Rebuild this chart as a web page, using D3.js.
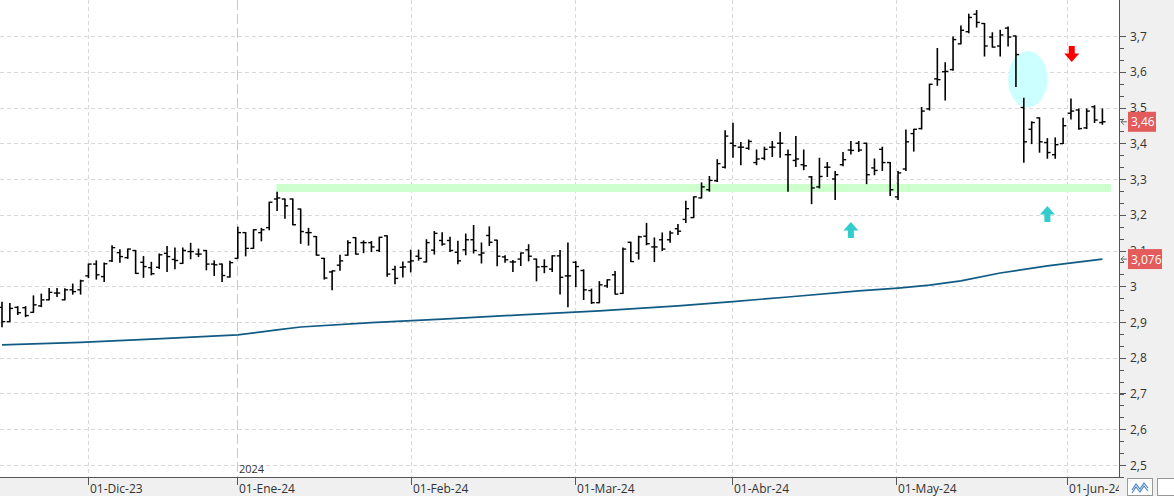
<!DOCTYPE html>
<html><head><meta charset="utf-8">
<script src="https://cdn.jsdelivr.net/npm/d3@7"></script>
<style>
body{margin:0;background:#fff;}
svg{display:block;font-family:"Segoe UI","Open Sans","Noto Sans",sans-serif;}
</style></head>
<body><svg id="chart" width="1174" height="496"></svg>
<script>
// ---- OHLC data (trading days 16-Nov-23 .. 07-Jun-24), index 0..140 ----
const openV = [2.941,2.901,2.941,2.940,2.927,2.945,2.962,2.981,2.962,2.990,
2.990,3.029,3.062,3.027,3.071,3.094,3.080,3.100,3.067,3.052,
3.053,3.092,3.075,3.064,3.097,3.090,3.100,3.062,3.062,3.026,
3.078,3.150,3.106,3.150,3.164,3.244,3.244,3.244,3.216,3.150,
3.139,3.078,3.040,3.059,3.087,3.136,3.122,3.122,3.100,3.141,
3.047,3.053,3.068,3.084,3.068,3.101,3.128,3.128,3.095,3.102,
3.130,3.088,3.142,3.129,3.082,3.068,3.076,3.102,3.076,3.055,
3.048,3.085,3.029,3.067,3.044,2.988,2.954,3.001,3.032,2.980,
3.123,3.093,3.140,3.110,3.130,3.130,3.161,3.187,3.192,3.247,
3.270,3.295,3.333,3.400,3.389,3.386,3.346,3.358,3.389,3.400,
3.368,3.352,3.340,3.306,3.278,3.333,3.300,3.340,3.381,3.400,
3.400,3.331,3.383,3.346,3.250,3.328,3.427,3.441,3.496,3.580,
3.600,3.606,3.678,3.712,3.761,3.735,3.697,3.672,3.722,3.700,
3.500,3.439,3.471,3.402,3.368,3.399,3.484,3.493,3.443,3.502,
3.458];
const highV = [2.955,2.952,2.943,2.943,2.973,2.978,2.994,2.994,2.993,3.006,
3.017,3.062,3.071,3.065,3.113,3.102,3.104,3.100,3.083,3.067,
3.090,3.111,3.107,3.107,3.120,3.104,3.100,3.071,3.062,3.070,
3.165,3.150,3.158,3.162,3.235,3.263,3.244,3.244,3.216,3.162,
3.139,3.078,3.043,3.087,3.127,3.136,3.127,3.125,3.137,3.141,
3.056,3.068,3.101,3.101,3.130,3.153,3.150,3.137,3.126,3.146,
3.170,3.121,3.166,3.129,3.085,3.072,3.093,3.116,3.076,3.074,
3.085,3.100,3.121,3.069,3.046,2.992,3.013,3.018,3.041,3.107,
3.123,3.140,3.176,3.135,3.149,3.154,3.173,3.238,3.250,3.289,
3.307,3.354,3.435,3.456,3.402,3.409,3.381,3.389,3.405,3.430,
3.381,3.419,3.381,3.307,3.358,3.346,3.321,3.374,3.405,3.405,
3.400,3.356,3.389,3.346,3.321,3.437,3.439,3.500,3.565,3.665,
3.625,3.697,3.728,3.761,3.771,3.735,3.709,3.716,3.725,3.700,
3.526,3.460,3.471,3.413,3.415,3.470,3.524,3.496,3.496,3.505,
3.496];
const lowV = [2.887,2.901,2.921,2.915,2.927,2.943,2.962,2.971,2.962,2.978,
2.978,3.024,3.020,3.013,3.069,3.067,3.078,3.036,3.025,3.032,
3.050,3.041,3.049,3.064,3.077,3.083,3.046,3.030,3.013,3.026,
3.078,3.085,3.106,3.127,3.158,3.212,3.190,3.172,3.120,3.115,
3.087,3.020,2.990,3.045,3.087,3.090,3.094,3.097,3.097,3.028,
3.007,3.026,3.040,3.073,3.068,3.090,3.115,3.097,3.063,3.088,
3.093,3.065,3.114,3.057,3.067,3.041,3.058,3.071,3.015,3.038,
3.041,2.978,2.943,2.999,2.963,2.952,2.954,2.997,2.978,2.980,
3.069,3.076,3.116,3.069,3.100,3.123,3.145,3.178,3.192,3.247,
3.266,3.293,3.331,3.361,3.340,3.383,3.340,3.354,3.363,3.361,
3.266,3.335,3.326,3.231,3.275,3.307,3.243,3.337,3.370,3.377,
3.287,3.312,3.324,3.254,3.243,3.324,3.378,3.440,3.493,3.562,
3.521,3.604,3.678,3.709,3.725,3.644,3.669,3.644,3.672,3.559,
3.347,3.399,3.375,3.358,3.358,3.399,3.468,3.439,3.441,3.458,
3.453];
const closeV = [2.901,2.938,2.926,2.918,2.948,2.962,2.983,2.981,2.990,2.985,
3.015,3.062,3.032,3.063,3.108,3.083,3.104,3.036,3.055,3.035,
3.088,3.083,3.072,3.100,3.097,3.090,3.062,3.060,3.030,3.066,
3.150,3.106,3.158,3.158,3.235,3.247,3.225,3.172,3.153,3.150,
3.087,3.023,3.043,3.071,3.122,3.090,3.122,3.110,3.137,3.034,
3.022,3.054,3.071,3.078,3.122,3.148,3.118,3.100,3.071,3.130,
3.100,3.093,3.123,3.084,3.074,3.068,3.093,3.084,3.054,3.055,
3.085,3.025,3.029,3.055,2.990,2.954,3.004,3.018,2.978,3.104,
3.069,3.138,3.119,3.110,3.104,3.149,3.154,3.217,3.250,3.278,
3.296,3.343,3.420,3.393,3.389,3.405,3.356,3.383,3.389,3.400,
3.368,3.356,3.337,3.275,3.307,3.333,3.312,3.354,3.380,3.381,
3.312,3.324,3.346,3.270,3.317,3.404,3.439,3.490,3.565,3.578,
3.601,3.690,3.716,3.752,3.738,3.672,3.669,3.703,3.697,3.648,
3.404,3.458,3.404,3.374,3.396,3.449,3.490,3.441,3.490,3.465,
3.460];

// ---- moving average (read at selected bars) ----
const maIndex = [0,10,19,30,35,38,47,56,66,76,86,93,100,109,114,118,122,127,133,140];
const maValue = [2.836,2.843,2.852,2.864,2.878,2.886,2.898,2.908,2.920,2.931,2.945,2.957,2.970,2.987,2.995,3.003,3.015,3.037,3.057,3.076];

// ---- axis labels ----
const monthTickIndex = [10.95,29.9,52,72.95,92.85,113.8,135.5];
const monthLabels = ["01-Dic-23","01-Ene-24","01-Feb-24","01-Mar-24","01-Abr-24","01-May-24","01-Jun-24"];
const yearSepIndex = 29.9, yearLabel = "2024";
const yTickValues = [2.5,2.6,2.7,2.8,2.9,3.0,3.1,3.2,3.3,3.4,3.5,3.6,3.7];
const yTickLabels = ["2,5","2,6","2,7","2,8","2,9","3","3,1","3,2","3,3","3,4","3,5","3,6","3,7"];

// ---- annotations ----
const bandRange = [3.264,3.286], bandIndex = [34.9,141.1];
const ellipse = {i:130.5, v:3.579, ri:2.5, rv:0.079};
const upArrows = [{i:108, v:3.180},{i:133, v:3.2245}];
const downArrows = [{i:136.1, v:3.627}];
const lastPrice = 3.46, lastPriceLabel = "3,46";
const lastMA = 3.076, lastMALabel = "3,076";

const W=1174, H=496, plotR=1119, axisY=477;
const svg = d3.select("#chart");
const x = d3.scaleLinear().domain([0,140]).range([2,1102.4]);
const y = d3.scaleLinear().domain([2.5,3.7]).range([465,36]);

svg.append("rect").attr("width",W).attr("height",H).attr("fill","#fff");

// horizontal grid
svg.append("g").selectAll("line").data(yTickValues).join("line")
  .attr("x1",0).attr("x2",plotR).attr("y1",d=>Math.round(y(d))+0.5).attr("y2",d=>Math.round(y(d))+0.5)
  .attr("stroke","#d9d9d9").attr("stroke-dasharray","4,3");
// vertical month grid
svg.append("g").selectAll("line").data(monthTickIndex.filter(d=>d!==yearSepIndex)).join("line")
  .attr("x1",d=>Math.round(x(d))+0.5).attr("x2",d=>Math.round(x(d))+0.5).attr("y1",0).attr("y2",axisY)
  .attr("stroke","#d9d9d9").attr("stroke-dasharray","4,3");
// year separator
svg.append("line").attr("x1",Math.round(x(yearSepIndex))+0.5).attr("x2",Math.round(x(yearSepIndex))+0.5)
  .attr("y1",0).attr("y2",axisY).attr("stroke","#c8c8c8").attr("stroke-dasharray","10,4");
svg.append("text").attr("x",x(yearSepIndex)+2).attr("y",473).attr("font-size",11).attr("fill","#333").text(yearLabel);

// green band
svg.append("rect").attr("x",x(bandIndex[0])).attr("width",x(bandIndex[1])-x(bandIndex[0]))
  .attr("y",y(bandRange[1])).attr("height",y(bandRange[0])-y(bandRange[1])).attr("fill","#ccffcc");
// cyan ellipse
svg.append("ellipse").attr("cx",x(ellipse.i)).attr("cy",y(ellipse.v))
  .attr("rx",x(ellipse.ri)-x(0)).attr("ry",y(0)-y(ellipse.rv)).attr("fill","#ccffff");

// MA line
const maPts = maIndex.map((d,k)=>[d,maValue[k]]);
svg.append("path").datum(maPts).attr("fill","none").attr("stroke","#105a84").attr("stroke-width",1.7)
  .attr("d",d3.line().x(d=>x(d[0])).y(d=>y(d[1])));

// OHLC bars
const bars = svg.append("g").attr("stroke","#000");
const idx = d3.range(openV.length);
bars.selectAll(".hl").data(idx).join("line")
  .attr("x1",i=>x(i)).attr("x2",i=>x(i)).attr("y1",i=>y(highV[i])-0.5).attr("y2",i=>y(lowV[i])+0.5).attr("stroke-width",1.6);
bars.selectAll(".o").data(idx).join("line")
  .attr("x1",i=>x(i)-3.2).attr("x2",i=>x(i)).attr("y1",i=>y(openV[i])).attr("y2",i=>y(openV[i])).attr("stroke-width",1.4);
bars.selectAll(".c").data(idx).join("line")
  .attr("x1",i=>x(i)).attr("x2",i=>x(i)+3.2).attr("y1",i=>y(closeV[i])).attr("y2",i=>y(closeV[i])).attr("stroke-width",1.4);

// arrows
function arrowPath(cx, tipY, dir){ // dir -1 up, +1 down
  const hw=7.5, sw=3, head=8.5, shaft=7.5;
  const b = tipY - dir*head, e = tipY - dir*(head+shaft);
  return `M${cx},${tipY} L${cx+hw},${b} L${cx+sw},${b} L${cx+sw},${e} L${cx-sw},${e} L${cx-sw},${b} L${cx-hw},${b} Z`;
}
svg.append("g").selectAll("path").data(upArrows).join("path")
  .attr("d",d=>arrowPath(x(d.i),y(d.v),-1)).attr("fill","#33cccc");
svg.append("g").selectAll("path").data(downArrows).join("path")
  .attr("d",d=>arrowPath(x(d.i),y(d.v),1)).attr("fill","#ff0000");

// bottom band
svg.append("rect").attr("x",0).attr("y",axisY).attr("width",W).attr("height",H-axisY).attr("fill","#f0f0f0");
svg.append("line").attr("x1",0).attr("x2",plotR).attr("y1",axisY+0.5).attr("y2",axisY+0.5).attr("stroke","#555");
const mt = svg.append("g");
mt.selectAll("line").data(monthTickIndex).join("line")
  .attr("x1",d=>Math.round(x(d))+0.5).attr("x2",d=>Math.round(x(d))+0.5).attr("y1",axisY).attr("y2",axisY+8).attr("stroke","#555");
mt.selectAll("text").data(monthTickIndex).join("text")
  .attr("x",d=>Math.round(x(d))+2).attr("y",493).attr("font-size",12).attr("fill","#333")
  .text((d,k)=>monthLabels[k]);

// right axis panel
svg.append("rect").attr("x",plotR).attr("y",0).attr("width",W-plotR).attr("height",H).attr("fill","#f0f0f0");
svg.append("line").attr("x1",plotR+0.5).attr("x2",plotR+0.5).attr("y1",0).attr("y2",axisY).attr("stroke","#555");
const minor = d3.range(0,40).map(k=>2.4+k/30).filter(v=>y(v)>=0 && y(v)<=axisY);
svg.append("g").selectAll("line").data(minor).join("line")
  .attr("x1",plotR).attr("x2",plotR+5).attr("y1",d=>Math.round(y(d))+0.5).attr("y2",d=>Math.round(y(d))+0.5).attr("stroke","#555");
const yl = svg.append("g");
yl.selectAll("line").data(yTickValues).join("line")
  .attr("x1",plotR).attr("x2",plotR+7).attr("y1",d=>Math.round(y(d))+0.5).attr("y2",d=>Math.round(y(d))+0.5).attr("stroke","#555");
yl.selectAll("text").data(yTickValues).join("text")
  .attr("x",plotR+11).attr("y",d=>y(d)+4.5).attr("font-size",12).attr("fill","#333")
  .text((d,k)=>yTickLabels[k]);

// price labels
function priceTag(v,label,w){
  const cy=y(v);
  svg.append("rect").attr("x",plotR+9).attr("y",cy-10).attr("width",w).attr("height",20).attr("fill","#e35b5b");
  svg.append("text").attr("x",plotR+12).attr("y",cy+4.5).attr("font-size",12).attr("fill","#fff").text(label);
  svg.append("path").attr("d",`M${plotR+8},${cy} H${plotR+2} M${plotR+5},${cy-3} L${plotR+2},${cy} L${plotR+5},${cy+3}`)
    .attr("fill","none").attr("stroke","#666");
}
priceTag(lastPrice,lastPriceLabel,28);
priceTag(lastMA,lastMALabel,34);

// bottom-right buttons
svg.append("rect").attr("x",1127.5).attr("y",478.5).attr("width",25).attr("height",17).attr("fill","#fff").attr("stroke","#999");
svg.append("path").attr("d","M1132,490 L1136,484 L1140,489 L1144,483 L1148,488 M1132,493 L1136,487 L1140,492 L1144,486 L1148,491")
  .attr("fill","none").attr("stroke","#4a86c5").attr("stroke-width",1.2);
svg.append("rect").attr("x",1157.5).attr("y",478.5).attr("width",25).attr("height",17).attr("fill","#fff").attr("stroke","#999");
</script></body></html>
